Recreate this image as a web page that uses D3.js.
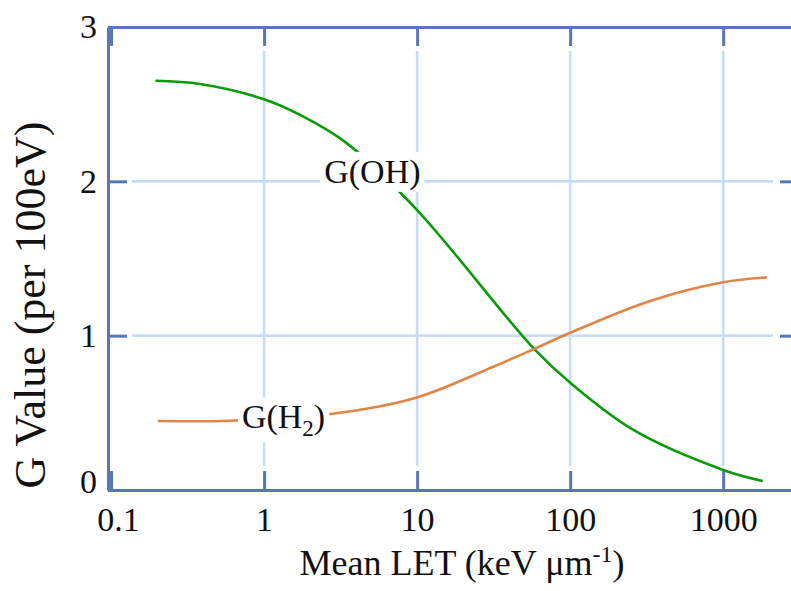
<!DOCTYPE html>
<html>
<head>
<meta charset="utf-8">
<script src="https://cdn.jsdelivr.net/npm/d3@7"></script>
<style>
  body { margin: 0; background: #fff; }
  svg { display: block; }
  text { font-family: 'Liberation Serif', 'DejaVu Serif', serif; }
</style>
</head>
<body>
<svg id="chart" width="791" height="591"></svg>
<script>
// data (LET in keV/um, G per 100 eV)
var ohLet = [0.195, 0.381, 1, 1.72, 3.48, 10, 58.1, 101, 259, 1000, 1815]
var ohG = [2.652, 2.631, 2.532, 2.43, 2.246, 1.814, 0.914, 0.691, 0.389, 0.13, 0.058]

var h2Let = [0.202, 0.599, 2.73, 9.84, 31.5, 58.1, 102, 333, 1000, 1927]
var h2G = [0.447, 0.449, 0.4925, 0.598, 0.799, 0.914, 1.022, 1.225, 1.346, 1.378]

var xTicks = [0.1, 1, 10, 100, 1000]
var xTickLabels = ['0.1', '1', '10', '100', '1000']
var yTicks = [0, 1, 2, 3]
var xGrid = [1, 10, 100, 1000]
var yGrid = [1, 2]

// label anchors in data units
var ohLabel = {let: 5.1, g: 1.99}
var h2Label = {let: 1.34, g: 0.40}

var fontFam = "'Liberation Serif', 'DejaVu Serif', serif"
var axisColor = '#5b76b7'
var gridColor = '#c8dcf7'
var tickLen = 19

var svg = d3.select('#chart')

var x = d3.scaleLog().domain([0.0955, 3130]).range([108, 799])
var y = d3.scaleLinear().domain([0, 3]).range([490, 27])

var x0 = x.range()[0], x1 = x.range()[1]
var y0 = y.range()[0], y1 = y.range()[1]

/** grid lines */
var grid = svg.append('g').attr('class', 'grid')
grid.selectAll('line.v').data(xGrid).enter().append('line')
  .attr('x1', function (d) { return x(d) }).attr('x2', function (d) { return x(d) })
  .attr('y1', y1 + tickLen + 5).attr('y2', y0 - tickLen - 5)
  .style('stroke', gridColor).style('stroke-width', 2.6)
grid.selectAll('line.h').data(yGrid).enter().append('line')
  .attr('y1', function (d) { return y(d) }).attr('y2', function (d) { return y(d) })
  .attr('x1', x0 + tickLen + 5).attr('x2', x1 - tickLen - 7)
  .style('stroke', gridColor).style('stroke-width', 2.6)

/** axes, ticks pointing inward */
var bottom = svg.append('g').attr('transform', 'translate(0,' + y0 + ')')
  .call(d3.axisBottom(x).tickValues(xTicks).tickSize(-tickLen).tickSizeOuter(0).tickPadding(17)
    .tickFormat(function (d, i) { return xTickLabels[i] }))
var top = svg.append('g').attr('transform', 'translate(0,' + y1 + ')')
  .call(d3.axisTop(x).tickValues(xTicks).tickSize(-tickLen).tickSizeOuter(0).tickFormat(''))
var left = svg.append('g').attr('transform', 'translate(' + x0 + ',0)')
  .call(d3.axisLeft(y).tickValues(yTicks).tickSize(-tickLen).tickSizeOuter(0).tickPadding(11).tickFormat(d3.format('d')))
var right = svg.append('g').attr('transform', 'translate(' + x1 + ',0)')
  .call(d3.axisRight(y).tickValues(yTicks).tickSize(-tickLen).tickSizeOuter(0).tickFormat(''))

svg.selectAll('g').attr('font-family', null).attr('font-size', null)
svg.selectAll('.domain, .tick line').style('stroke', axisColor).style('stroke-width', 3)
svg.selectAll('.tick text').style('font-family', fontFam).style('font-size', '34px').style('fill', '#111')

// small nudges seen in the picture
bottom.selectAll('.tick text').filter(function (d) { return d === 0.1 }).attr('dx', 7)
left.selectAll('.tick text').filter(function (d) { return d === 0 }).attr('dy', '0.08em')

/** curves */
var line = d3.line()
  .x(function (d) { return x(d[0]) })
  .y(function (d) { return y(d[1]) })
  .curve(d3.curveCatmullRom.alpha(0.5))

svg.append('path').datum(d3.zip(ohLet, ohG)).attr('d', line)
  .style('fill', 'none').style('stroke', '#0a9a0a').style('stroke-width', 2.6)
svg.append('path').datum(d3.zip(h2Let, h2G)).attr('d', line)
  .style('fill', 'none').style('stroke', '#e0844a').style('stroke-width', 2.6)

/** curve labels with white knock-out */
function addLabel (pos, build) {
  var g = svg.append('g')
  var bg = g.append('rect').style('fill', '#fff')
  var t = g.append('text').attr('x', x(pos.let)).attr('y', y(pos.g))
    .attr('text-anchor', 'middle').style('font-family', fontFam).style('font-size', '34px').style('fill', '#111')
  build(t)
  var b = t.node().getBBox()
  bg.attr('x', b.x - 4).attr('y', b.y - 1).attr('width', b.width + 8).attr('height', b.height + 2)
}

addLabel(ohLabel, function (t) { t.text('G(OH)') })
addLabel(h2Label, function (t) {
  t.append('tspan').text('G(H')
  t.append('tspan').attr('dy', 8).style('font-size', '23px').text('2')
  t.append('tspan').attr('dy', -8).text(')')
})

/** axis titles */
var xt = svg.append('text').attr('x', 462).attr('y', 575).attr('text-anchor', 'middle')
  .style('font-family', fontFam).style('font-size', '36px').style('fill', '#111')
xt.append('tspan').text('Mean LET (keV \u03bcm')
xt.append('tspan').attr('dy', -13).style('font-size', '24px').text('-1')
xt.append('tspan').attr('dy', 13).text(')')

svg.append('text').attr('transform', 'translate(45,305) rotate(-90)').attr('text-anchor', 'middle')
  .style('font-family', fontFam).style('font-size', '44px').style('fill', '#111')
  .text('G Value (per 100eV)')
</script>
</body>
</html>
